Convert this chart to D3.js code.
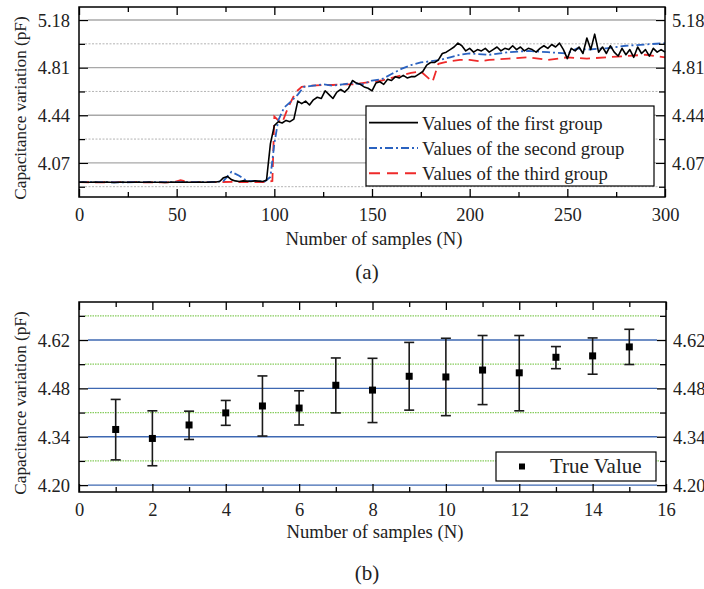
<!DOCTYPE html>
<html>
<head>
<meta charset="utf-8">
<style>
    body { margin:0; background:#fff; }
    svg, svg text { font-family:"Liberation Serif","Times New Roman",serif; }
    .axis path { fill:none; stroke:none; }
    .axis line { stroke:#000; stroke-width:1.3px; }
    .axis text { font-size:18.5px; fill:#222; font-family:"Liberation Serif","Times New Roman",serif; }
    .frame { fill:none; stroke:#000; stroke-width:1.5px; }
    .lbl { font-size:18.7px; fill:#222; }
    .ytitle { font-size:17.2px; fill:#222; }
</style>
<script src="https://cdn.jsdelivr.net/npm/d3@7"></script>
</head>
<body>
<script>
// ---- panel (a): three groups, 0..300 samples ----
let firstStep = 2;   // first group read every 2 samples
let firstValues = [
    3.920,3.921,3.919,3.920,3.922,3.920,3.919,3.921,3.920,3.918,3.920,3.921,3.919,3.920,3.920,3.922,3.919,3.920,
    3.921,3.920,3.919,3.920,3.918,3.920,3.921,3.920,3.919,3.921,3.920,3.920,3.919,3.921,3.920,3.920,3.921,
    3.922,3.925,3.955,3.965,3.940,3.930,3.925,3.930,3.928,3.925,3.930,3.928,3.925,3.935,
    4.22,4.36,4.39,4.38,4.40,4.39,4.41,4.55,4.53,4.55,
    4.52,4.56,4.58,4.57,4.63,4.60,4.57,4.62,4.64,4.62,
    4.65,4.71,4.69,4.68,4.66,4.65,4.63,4.69,4.70,4.68,
    4.72,4.71,4.74,4.73,4.75,4.73,4.74,4.74,4.76,4.78,
    4.83,4.85,4.85,4.87,4.92,4.93,4.95,4.97,5.00,4.98,
    4.94,4.96,4.93,4.95,4.94,4.96,4.93,4.95,4.97,4.94,
    4.96,4.95,4.98,4.95,4.97,4.94,4.96,4.95,4.93,4.96,
    4.98,4.96,4.99,4.97,5.00,4.95,4.88,4.96,4.94,4.97,
    4.92,5.04,4.95,5.07,4.93,4.97,4.92,4.98,4.93,4.90,
    4.96,4.91,4.95,4.89,4.97,4.92,4.95,4.90,4.96,4.93,
    4.95,4.93
];
let secondN = [0,10,20,30,40,50,60,70,74,78,82,86,90,95,98,100,102,105,108,112,115,
    120,125,130,135,140,145,150,155,160,165,170,175,180,185,190,195,200,
    210,220,230,240,250,255,260,270,280,290,300];
let secondValues = [3.92,3.921,3.919,3.92,3.92,3.921,3.92,3.922,3.93,4.00,3.97,3.93,3.93,3.925,3.96,
    4.22,4.40,4.50,4.54,4.60,4.66,
    4.67,4.68,4.67,4.68,4.69,4.68,4.71,4.72,4.76,4.80,4.83,4.85,4.86,4.87,4.89,4.91,4.92,
    4.91,4.93,4.94,4.93,4.92,4.96,4.95,4.96,4.98,4.99,5.00];
let thirdN = [0,10,20,30,40,48,52,56,60,70,80,90,96,99,100,102,104,106,108,111,114,118,
    125,130,135,140,145,150,155,160,165,170,175,178,181,184,187,190,195,200,205,210,
    220,230,240,250,260,270,280,290,300];
let thirdValues = [3.92,3.919,3.921,3.92,3.919,3.918,3.935,3.921,3.92,3.921,3.922,3.92,3.921,
    3.93,4.43,4.40,4.38,4.46,4.53,4.62,4.66,4.67,
    4.675,4.675,4.68,4.68,4.69,4.70,4.71,4.73,4.75,4.77,4.78,
    4.74,4.70,4.84,4.85,4.86,4.87,4.87,4.86,4.87,
    4.88,4.89,4.87,4.89,4.88,4.89,4.90,4.91,4.89];
let ticksA_x = [0, 50, 100, 150, 200, 250, 300];
let minorA_x = [25, 75, 125, 175, 225, 275];
let ticksA_y = [4.07, 4.44, 4.81, 5.18];
let minorA_y = [3.885, 4.255, 4.625, 4.995];
let groupNames = ["Values of the first group", "Values of the second group", "Values of the third group"];

// ---- panel (b): true value with error bars ----
let trueN = [1,2,3,4,5,6,7,8,9,10,11,12,13,14,15];
let trueValues = [4.361,4.335,4.374,4.409,4.429,4.423,4.489,4.475,4.515,4.513,4.533,4.525,4.570,4.574,4.600];
let errHigh = [4.448,4.415,4.414,4.445,4.516,4.473,4.568,4.567,4.613,4.625,4.633,4.633,4.601,4.626,4.651];
let errLow  = [4.273,4.256,4.332,4.373,4.342,4.374,4.409,4.381,4.417,4.401,4.433,4.415,4.537,4.521,4.549];
let ticksB_x = [0, 2, 4, 6, 8, 10, 12, 14, 16];
let minorB_x = [1, 3, 5, 7, 9, 11, 13, 15];
let ticksB_y = [4.20, 4.34, 4.48, 4.62];
let minorB_y = [4.27, 4.41, 4.55, 4.69];

let svg = d3.select("body").append("svg").attr("width", 704).attr("height", 589);
svg.append("rect").attr("width", 704).attr("height", 589).attr("fill", "#fff");

function addAxis(axis, tx, ty, dy) {
    let g = svg.append("g").attr("class", "axis")
        .attr("transform", `translate(${tx},${ty})`)
        .call(axis);
    g.attr("font-family", null).attr("font-size", null);
    if (dy) g.selectAll("text").attr("dy", dy);
    return g;
}

function frameAxes(x, y, xMajor, xMinor, yMajor, yMinor) {
    let [x0, x1] = x.range(), [y1, y0] = y.range();
    let fmt = d3.format(".2f");
    // inward ticks on all four sides
    addAxis(d3.axisBottom(x).tickValues(xMajor).tickSize(-8).tickPadding(11).tickFormat(d3.format("d")), 0, y1, "0.72em");
    addAxis(d3.axisBottom(x).tickValues(xMinor).tickSize(-5).tickFormat(""), 0, y1);
    addAxis(d3.axisTop(x).tickValues(xMajor).tickSize(-8).tickFormat(""), 0, y0);
    addAxis(d3.axisTop(x).tickValues(xMinor).tickSize(-5).tickFormat(""), 0, y0);
    addAxis(d3.axisLeft(y).tickValues(yMajor).tickSize(-9).tickPadding(9).tickFormat(fmt), x0, 0, "0.34em");
    addAxis(d3.axisLeft(y).tickValues(yMinor).tickSize(-6).tickFormat(""), x0, 0);
    addAxis(d3.axisRight(y).tickValues(yMajor).tickSize(-9).tickPadding(7).tickFormat(fmt), x1, 0, "0.34em");
    addAxis(d3.axisRight(y).tickValues(yMinor).tickSize(-6).tickFormat(""), x1, 0);
    svg.append("rect").attr("class", "frame")
        .attr("x", x0).attr("y", y0).attr("width", x1 - x0).attr("height", y1 - y0);
}

// ================= panel (a) =================
let xA = d3.scaleLinear().domain([0, 300]).range([79, 665]);
let yA = d3.scaleLinear().domain([3.805, 5.281]).range([197, 7]);

let gridA = svg.append("g");
gridA.selectAll("line.maj").data(ticksA_y).join("line")
    .attr("x1", 88).attr("x2", 656)
    .attr("y1", d => yA(d)).attr("y2", d => yA(d))
    .attr("stroke", "#a8a8a8").attr("stroke-width", 1.3);
gridA.selectAll("line.min").data(minorA_y).join("line")
    .attr("x1", 85).attr("x2", 659)
    .attr("y1", d => yA(d)).attr("y2", d => yA(d))
    .attr("stroke", "#b4b4b4").attr("stroke-width", 1).attr("stroke-dasharray", "2,1.5");

let firstData = firstValues.map((v, i) => [i * firstStep, v]);
let secondData = secondN.map((n, i) => [n, secondValues[i]]);
let thirdData = thirdN.map((n, i) => [n, thirdValues[i]]);
let lineA = d3.line().x(d => xA(d[0])).y(d => yA(d[1]));

let styles = [
    {color: "#000", width: 1.6, dash: null},
    {color: "#2a62c0", width: 1.8, dash: "8,3,2,3"},
    {color: "#ee2a2a", width: 1.8, dash: "10,6"}
];
svg.append("path").attr("d", lineA(thirdData)).attr("fill", "none")
    .attr("stroke", styles[2].color).attr("stroke-width", styles[2].width).attr("stroke-dasharray", styles[2].dash);
svg.append("path").attr("d", lineA(secondData)).attr("fill", "none")
    .attr("stroke", styles[1].color).attr("stroke-width", styles[1].width).attr("stroke-dasharray", styles[1].dash);
svg.append("path").attr("d", lineA(firstData)).attr("fill", "none")
    .attr("stroke", styles[0].color).attr("stroke-width", styles[0].width).attr("stroke-linejoin", "round");

frameAxes(xA, yA, ticksA_x, minorA_x, ticksA_y, minorA_y);

// legend (a)
let legA = svg.append("g");
legA.append("rect").attr("x", 366).attr("y", 106).attr("width", 288).attr("height", 80)
    .attr("fill", "#fff").attr("stroke", "#000").attr("stroke-width", 1.2);
groupNames.forEach((name, i) => {
    let yy = 122.7 + i * 25.3;
    legA.append("line").attr("x1", 369).attr("x2", 418).attr("y1", yy).attr("y2", yy)
        .attr("stroke", styles[i].color).attr("stroke-width", styles[i].width + 0.2)
        .attr("stroke-dasharray", i == 2 ? "11,7" : styles[i].dash);
    legA.append("text").attr("class", "lbl").attr("x", 422).attr("y", yy + 7).text(name);
});

svg.append("text").attr("class", "lbl").attr("text-anchor", "middle")
    .attr("x", 374).attr("y", 245).text("Number of samples (N)");
svg.append("text").attr("class", "ytitle").attr("text-anchor", "middle")
    .attr("transform", "translate(26,108) rotate(-90)").text("Capacitance variation (pF)");
svg.append("text").attr("text-anchor", "middle").attr("font-size", "21px").attr("fill", "#222")
    .attr("x", 367).attr("y", 279).text("(a)");

// ================= panel (b) =================
let xB = d3.scaleLinear().domain([0, 16]).range([79, 666]);
let yB = d3.scaleLinear().domain([4.18, 4.73]).range([492, 302]);

let gridB = svg.append("g");
gridB.selectAll("line.maj").data(ticksB_y).join("line")
    .attr("x1", 88).attr("x2", 657)
    .attr("y1", d => yB(d)).attr("y2", d => yB(d))
    .attr("stroke", "#3e68b2").attr("stroke-width", 1.3);
gridB.selectAll("line.min").data(minorB_y).join("line")
    .attr("x1", 85).attr("x2", 660)
    .attr("y1", d => yB(d)).attr("y2", d => yB(d))
    .attr("stroke", "#86cc5c").attr("stroke-width", 1.2).attr("stroke-dasharray", "1.5,1");

let bars = svg.append("g").attr("stroke", "#1a1a1a").attr("stroke-width", 1.6);
trueN.forEach((n, i) => {
    let cx = xB(n);
    bars.append("line").attr("x1", cx).attr("x2", cx).attr("y1", yB(errLow[i])).attr("y2", yB(errHigh[i]));
    bars.append("line").attr("x1", cx - 5).attr("x2", cx + 5).attr("y1", yB(errLow[i])).attr("y2", yB(errLow[i]));
    bars.append("line").attr("x1", cx - 5).attr("x2", cx + 5).attr("y1", yB(errHigh[i])).attr("y2", yB(errHigh[i]));
});
svg.append("g").selectAll("rect").data(trueN).join("rect")
    .attr("x", d => xB(d) - 3.5).attr("y", (d, i) => yB(trueValues[i]) - 3.5)
    .attr("width", 7).attr("height", 7).attr("fill", "#000");

frameAxes(xB, yB, ticksB_x, minorB_x, ticksB_y, minorB_y);

let legB = svg.append("g");
legB.append("rect").attr("x", 496).attr("y", 452).attr("width", 160).attr("height", 29)
    .attr("fill", "#fff").attr("stroke", "#000").attr("stroke-width", 1.2);
legB.append("rect").attr("x", 519).attr("y", 463.5).attr("width", 6).attr("height", 6).attr("fill", "#000");
legB.append("text").attr("x", 550).attr("y", 473.3).attr("font-size", "21px").attr("fill", "#222").text("True Value");

svg.append("text").attr("class", "lbl").attr("text-anchor", "middle")
    .attr("x", 375).attr("y", 537.5).text("Number of samples (N)");
svg.append("text").attr("class", "ytitle").attr("text-anchor", "middle")
    .attr("transform", "translate(26,403) rotate(-90)").text("Capacitance variation (pF)");
svg.append("text").attr("text-anchor", "middle").attr("font-size", "21px").attr("fill", "#222")
    .attr("x", 367).attr("y", 580).text("(b)");
</script>
</body>
</html>
